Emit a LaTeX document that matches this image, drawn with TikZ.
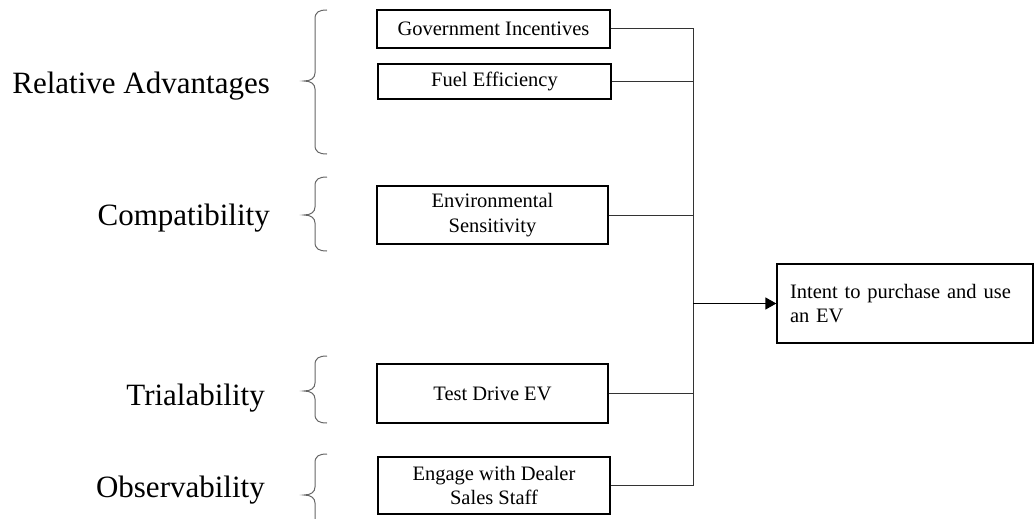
\documentclass[tikz,border=0pt]{standalone}
\usepackage{fontspec}
\setmainfont{Liberation Serif}
\usetikzlibrary{arrows.meta}
\newcommand\mybrace[3]{% top, tip, bottom
  \draw[brace] (327,#1) .. controls (319,#1) and (315,{#1+2}) .. (315,{#1+9})
    -- (315,{#2-8}) .. controls (315,{#2-3}) and (311,#2) .. (304,#2)
    .. controls (311,#2) and (315,{#2+3}) .. (315,{#2+8})
    -- (315,{#3-9}) .. controls (315,{#3-2}) and (319,#3) .. (327,#3);}
\begin{document}
\begin{tikzpicture}[x=1pt,y=-1pt,
  box/.style={draw=black, line width=1.3pt, inner sep=0pt, align=center,
    font=\fontsize{20.5}{24.5}\selectfont},
  lab/.style={anchor=base east, inner sep=0pt, font=\fontsize{31}{36}\selectfont},
  conn/.style={draw=black!80, line width=1pt},
  brace/.style={draw=black!60, line width=1pt}]
\useasboundingbox (0,0) rectangle (1034,519);

% category labels
\node[lab] (ra) at (270,93) {Relative Advantages};
\node[lab] (co) at (270,225) {Compatibility};
\node[lab] (tr) at (265,405) {Trialability};
\node[lab] (ob) at (265,497) {Observability};

% braces
\mybrace{10}{81}{154}
\mybrace{177}{215}{251}
\mybrace{356}{391}{423}
\mybrace{454}{495}{540}

% factor boxes
\node[box, minimum width=233pt, minimum height=38pt] (gov) at (493.5,29) {Government Incentives};
\node[box, minimum width=233pt, minimum height=35pt] (fuel) at (494.5,81.5) {Fuel Efficiency};
\node[box, minimum width=231pt, minimum height=58pt] (env) at (492.5,215) {Environmental\\Sensitivity};
\node[box, minimum width=231pt, minimum height=59pt] (test) at (492.5,393.5) {Test Drive EV};
\node[box, minimum width=232pt, minimum height=57pt] (eng) at (494,485.5) {Engage with Dealer\\Sales Staff};

% outcome
\node[box, align=left, text width=230pt, inner xsep=13pt, minimum height=79pt] (intent) at (905,303.5) {Intent to purchase and use\\an EV};

% connectors
\coordinate (bus) at (693,0);
\draw[conn] (gov.east) -- (gov.east -| bus) -- (eng.east -| bus) -- (eng.east);
\draw[conn] (fuel.east) -- (fuel.east -| bus);
\draw[conn] (env.east) -- (env.east -| bus);
\draw[conn] (test.east) -- (test.east -| bus);
\draw[draw=black, line width=1.5pt, -{Triangle[length=11pt,width=12pt]}] (intent.west -| bus) -- (intent.west);
\end{tikzpicture}
\end{document}
